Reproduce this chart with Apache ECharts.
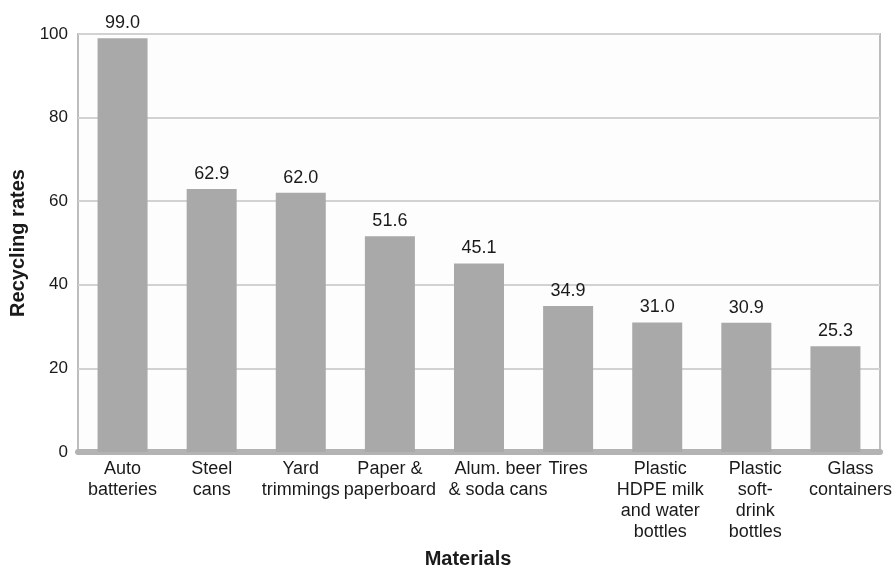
<!DOCTYPE html>
<html>
<head>
<meta charset="utf-8">
<script src="https://cdn.jsdelivr.net/npm/echarts@6/dist/echarts.min.js"></script>
<style>
  html, body { margin: 0; padding: 0; background: #fff; }
  #chart { width: 894px; height: 568px; }
</style>
</head>
<body>
<div id="chart"></div>
<script>
// 材料类别（x 轴）
var materials = [
  "Auto\nbatteries",
  "Steel\ncans",
  "Yard\ntrimmings",
  "Paper &\npaperboard",
  "Alum. beer\n& soda cans",
  "Tires",
  "Plastic\nHDPE milk\nand water\nbottles",
  "Plastic\nsoft-\ndrink\nbottles",
  "Glass\ncontainers"
];
// 回收率
var rates = [99.0, 62.9, 62.0, 51.6, 45.1, 34.9, 31.0, 30.9, 25.3];
// 某些标签在原图中稍微右移
var labelShift = [0, 0, 0, 0, 38, 0, 6, 18, 30];

var font = "'Liberation Sans', Arial, sans-serif";
var chart = echarts.init(document.getElementById("chart"));

var option = {
  animation: false,
  textStyle: { fontFamily: font },
  grid: {
    left: 78,
    right: 14,
    top: 34,
    bottom: 116,
    outerBoundsMode: "none",
    containLabel: false,
    show: true,
    backgroundColor: "#fdfdfd",
    borderColor: "#bdbdbd",
    borderWidth: 2
  },
  xAxis: {
    type: "category",
    data: materials.map(function (m, i) {
      return {
        value: m,
        textStyle: { padding: [0, 0, 0, labelShift[i]] }
      };
    }),
    name: "Materials",
    nameLocation: "middle",
    nameGap: 97,
    nameTextStyle: {
      fontFamily: font,
      fontSize: 20,
      fontWeight: "bold",
      color: "#1a1a1a",
      padding: [0, 22, 0, 0]
    },
    axisLine: { show: true, lineStyle: { color: "#b3b3b3", width: 6 } },
    axisTick: { show: false },
    axisLabel: {
      interval: 0,
      fontSize: 18,
      lineHeight: 21,
      color: "#1a1a1a",
      margin: 7
    }
  },
  yAxis: {
    type: "value",
    min: 0,
    max: 100,
    interval: 20,
    name: "Recycling rates",
    nameLocation: "middle",
    nameGap: 50,
    nameTextStyle: {
      fontFamily: font,
      fontSize: 20,
      fontWeight: "bold",
      color: "#1a1a1a"
    },
    axisLine: { show: false },
    axisTick: { show: false },
    axisLabel: { fontSize: 17, color: "#1a1a1a", margin: 10 },
    splitLine: { lineStyle: { color: "#d2d2d2", width: 2 } }
  },
  series: [
    {
      type: "bar",
      data: rates,
      barWidth: 50,
      itemStyle: { color: "#a9a9a9" },
      label: {
        show: true,
        position: "top",
        distance: 6,
        fontSize: 18,
        color: "#1a1a1a",
        formatter: function (p) { return p.value.toFixed(1); }
      }
    }
  ]
};

chart.setOption(option);
</script>
</body>
</html>
